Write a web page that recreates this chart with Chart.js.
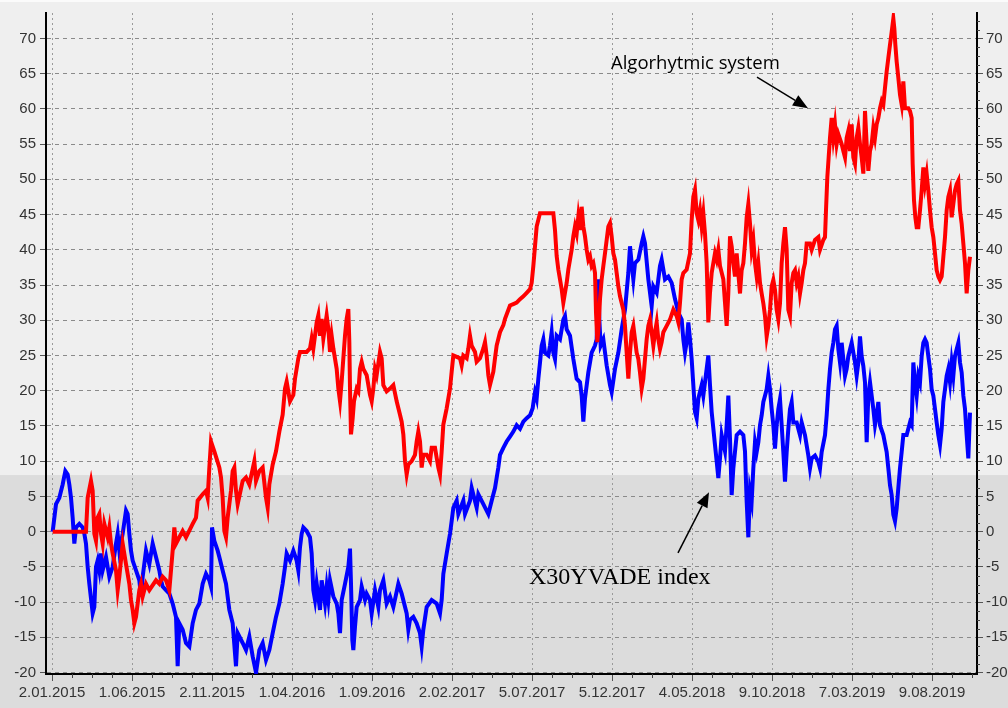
<!DOCTYPE html>
<html>
<head>
<meta charset="utf-8">
<script src="https://cdn.jsdelivr.net/npm/chart.js@4.4.0/dist/chart.umd.min.js"></script>
<style>
  html, body { margin: 0; padding: 0; background: #dcdcdc; }
  #wrap { width: 1008px; height: 708px; }
</style>
</head>
<body>
<div id="wrap"><canvas id="chart" width="1008" height="708"></canvas></div>
<script>
// x is a session counter, 240 sessions between date labels
const tickPos = [0, 240, 480, 720, 960, 1200, 1440, 1680, 1920, 2160, 2400, 2640];
const tickLabels = ['2.01.2015', '1.06.2015', '2.11.2015', '1.04.2016', '1.09.2016', '2.02.2017',
  '5.07.2017', '5.12.2017', '4.05.2018', '9.10.2018', '7.03.2019', '9.08.2019'];
const yTicks = [-20, -15, -10, -5, 0, 5, 10, 15, 20, 25, 30, 35, 40, 45, 50, 55, 60, 65, 70];

// Algorhytmic system (red)
const algoT = [
  2, 102, 107, 117, 122, 127, 132, 137, 142, 147, 152, 157, 167, 172, 177, 182, 192, 197, 202, 212,
  222, 232, 237, 242, 247, 252, 262, 267, 272, 282, 292, 312, 322, 332, 342, 352, 357, 362, 367, 372,
  382, 392, 402, 422, 432, 437, 452, 462, 467, 472, 477, 487, 502, 507, 512, 517, 522, 527, 537, 542,
  547, 552, 557, 572, 582, 592, 607, 612, 622, 632, 642, 647, 652, 662, 672, 682, 692, 699, 704, 714,
  724, 729, 739, 744, 764, 774, 779, 784, 789, 794, 799, 804, 809, 814, 824, 829, 834, 839, 844, 854,
  859, 864, 869, 874, 879, 884, 889, 892, 894, 897, 902, 906, 914, 919, 924, 929, 934, 944, 954, 959,
  964, 969, 974, 984, 989, 994, 1004, 1014, 1024, 1034, 1044, 1049, 1054, 1059, 1064, 1069, 1079, 1089, 1094, 1099,
  1104, 1109, 1114, 1124, 1134, 1139, 1149, 1159, 1164, 1169, 1174, 1184, 1194, 1199, 1204, 1224, 1229, 1234, 1244, 1249,
  1254, 1259, 1269, 1274, 1284, 1294, 1299, 1304, 1309, 1314, 1324, 1329, 1334, 1344, 1354, 1359, 1374, 1384, 1394, 1404,
  1414, 1424, 1434, 1439, 1444, 1449, 1454, 1464, 1504, 1509, 1514, 1519, 1524, 1529, 1534, 1539, 1544, 1549, 1554, 1559,
  1564, 1569, 1574, 1579, 1584, 1589, 1594, 1599, 1604, 1609, 1614, 1619, 1624, 1629, 1632, 1636, 1640, 1644, 1649, 1654,
  1659, 1664, 1669, 1674, 1679, 1684, 1689, 1694, 1699, 1704, 1714, 1719, 1724, 1729, 1734, 1739, 1744, 1749, 1754, 1759,
  1764, 1769, 1774, 1779, 1784, 1789, 1794, 1799, 1804, 1809, 1814, 1819, 1824, 1829, 1834, 1844, 1854, 1864, 1874, 1879,
  1884, 1889, 1894, 1904, 1914, 1919, 1924, 1929, 1934, 1939, 1944, 1949, 1954, 1959, 1964, 1969, 1974, 1979, 1984, 1989,
  1994, 1999, 2004, 2014, 2019, 2024, 2029, 2034, 2039, 2044, 2049, 2054, 2064, 2069, 2074, 2079, 2084, 2089, 2094, 2099,
  2104, 2109, 2114, 2119, 2124, 2129, 2134, 2139, 2144, 2149, 2154, 2159, 2164, 2169, 2174, 2179, 2184, 2189, 2194, 2199,
  2204, 2209, 2214, 2219, 2224, 2229, 2234, 2239, 2244, 2249, 2254, 2259, 2264, 2274, 2279, 2289, 2299, 2304, 2314, 2319,
  2322, 2326, 2330, 2334, 2339, 2344, 2349, 2354, 2359, 2369, 2374, 2379, 2384, 2389, 2394, 2399, 2404, 2409, 2414, 2419,
  2424, 2429, 2434, 2439, 2444, 2449, 2454, 2459, 2464, 2469, 2474, 2479, 2484, 2489, 2494, 2499, 2504, 2509, 2514, 2519,
  2524, 2527, 2530, 2534, 2539, 2544, 2549, 2554, 2559, 2569, 2574, 2579, 2582, 2586, 2590, 2594, 2599, 2604, 2609, 2614,
  2619, 2624, 2629, 2634, 2639, 2644, 2649, 2654, 2659, 2664, 2669, 2674, 2679, 2684, 2689, 2694, 2699, 2704, 2709, 2714,
  2719, 2724, 2729, 2734, 2739, 2744, 2749, 2754
];
const algoV = [
  0, 0, 4.8, 7.2, 5.8, -0.3, -1.3, 2.0, 2.5, -0.3, -1.7, 1.1, -0.8, 0.6, -1.7, -3.1, -5.5, -8.3, -6.4, -1.7,
  -4.6, -7.4, -9.7, -11.1, -13.0, -12.1, -8.3, -7.4, -9.2, -7.4, -8.3, -6.9, -7.4, -6.4, -6.9, -8.3, -5.5, -2.7, 0.6, -1.7,
  -0.8, 0.1, -0.8, 1.1, 2.0, 4.4, 5.3, 5.8, 4.8, 9.1, 12.8, 11.4, 9.1, 7.7, 4.8, 0.1, -0.8, 2.0, 5.8, 8.6,
  9.1, 5.8, 3.9, 7.2, 7.7, 6.7, 10.0, 7.2, 8.6, 9.1, 4.8, 3.4, 6.7, 9.5, 11.4, 14.2, 16.6, 20.3, 21.3, 18.5,
  19.4, 21.7, 24.6, 25.5, 25.5, 26.0, 27.4, 26.0, 27.8, 29.7, 30.7, 27.8, 30.2, 27.4, 30.7, 28.8, 25.5, 27.8, 26.0, 23.1,
  20.3, 18.5, 21.3, 24.6, 27.8, 30.2, 31.6, 26.9, 20.3, 13.8, 16.1, 18.5, 20.3, 19.9, 23.1, 24.1, 23.1, 22.2, 19.4, 18.5,
  20.3, 23.1, 22.2, 25.5, 24.6, 20.8, 19.9, 20.3, 20.8, 18.5, 16.6, 15.6, 13.8, 10.0, 8.1, 9.5, 10.0, 10.9, 12.8, 14.2,
  12.8, 9.1, 10.9, 10.9, 10.0, 11.9, 11.9, 9.1, 8.1, 11.4, 15.2, 17.5, 20.3, 22.7, 25.0, 24.6, 23.6, 25.0, 24.6, 26.0,
  27.8, 26.4, 25.5, 24.1, 24.6, 26.0, 26.9, 25.0, 22.2, 20.8, 22.7, 24.6, 26.4, 28.3, 29.3, 30.2, 32.1, 32.3, 32.5, 33.0,
  33.4, 33.9, 34.4, 35.3, 37.7, 40.5, 43.3, 45.2, 45.2, 42.8, 39.1, 37.2, 35.8, 34.4, 32.5, 33.9, 35.3, 37.2, 38.6, 40.0,
  41.9, 43.3, 42.3, 44.7, 42.8, 46.1, 43.3, 41.9, 40.0, 38.6, 39.1, 37.7, 38.1, 36.7, 31.1, 26.9, 29.2, 33.0, 35.8, 37.7,
  39.5, 41.4, 43.3, 43.8, 41.9, 39.5, 38.6, 36.7, 34.8, 33.4, 31.5, 29.2, 25.4, 21.7, 25.4, 28.3, 29.2, 27.3, 25.4, 24.5,
  22.6, 20.3, 21.7, 24.5, 27.3, 29.2, 30.1, 28.3, 26.4, 28.3, 29.7, 27.3, 25.9, 26.9, 28.3, 29.2, 30.1, 31.5, 30.6, 29.7,
  32.5, 35.8, 36.7, 37.2, 39.5, 44.2, 47.5, 48.5, 45.2, 44.2, 45.6, 43.3, 45.2, 42.3, 38.1, 29.7, 33.9, 36.7, 38.1, 39.5,
  38.6, 40.0, 37.7, 35.8, 32.5, 29.2, 33.9, 41.9, 40.5, 38.1, 36.2, 39.5, 33.8, 37.1, 38.1, 40.9, 44.6, 46.5, 43.7, 40.0,
  41.4, 38.1, 36.2, 38.1, 35.3, 33.8, 32.4, 30.6, 27.7, 29.2, 31.5, 34.8, 35.7, 34.3, 31.5, 30.1, 32.4, 38.1, 40.9, 43.2,
  40.0, 31.5, 30.6, 35.3, 36.7, 37.1, 35.3, 36.2, 33.8, 35.3, 37.1, 38.1, 40.9, 40.9, 40.0, 41.4, 41.8, 40.0, 41.4, 41.8,
  45.6, 50.3, 53.1, 55.9, 58.7, 55.9, 57.8, 55.0, 56.4, 55.0, 54.0, 53.1, 55.9, 56.9, 54.0, 57.8, 53.1, 52.2, 55.9, 57.3,
  55.0, 53.1, 50.8, 59.7, 55.0, 51.2, 54.0, 55.0, 57.3, 55.9, 57.8, 58.7, 60.1, 61.1, 60.6, 63.0, 65.3, 67.2, 69.1, 70.9,
  72.8, 71.4, 69.1, 66.7, 64.4, 62.0, 60.6, 63.9, 60.1, 60.1, 59.7, 58.7, 52.2, 47.0, 44.6, 43.2, 43.2, 45.6, 48.4, 51.7,
  49.3, 50.8, 48.4, 45.6, 43.2, 41.8, 39.5, 37.1, 36.2, 35.7, 36.2, 39.0, 41.8, 45.6, 47.5, 48.4, 44.6, 46.5, 48.4, 49.3,
  49.8, 45.6, 43.7, 40.9, 38.1, 33.8, 37.1, 39.0
];

// X30YVADE index (blue)
const indexT = [
  2, 12, 22, 32, 40, 47, 52, 57, 62, 67, 72, 82, 92, 97, 102, 107, 112, 122, 127, 132,
  137, 142, 147, 152, 162, 172, 182, 192, 197, 202, 212, 222, 227, 232, 237, 242, 252, 262, 267, 272,
  282, 292, 302, 312, 322, 327, 332, 342, 352, 362, 372, 377, 382, 392, 402, 412, 422, 432, 442, 452,
  462, 472, 477, 480, 487, 497, 502, 512, 522, 532, 542, 552, 557, 572, 582, 592, 602, 612, 622, 632,
  642, 652, 662, 672, 682, 692, 699, 704, 714, 724, 734, 739, 744, 749, 754, 764, 774, 779, 784, 789,
  794, 804, 809, 819, 824, 829, 834, 844, 854, 859, 864, 869, 879, 889, 894, 897, 901, 904, 909, 914,
  924, 929, 939, 944, 954, 959, 969, 979, 984, 994, 1004, 1014, 1024, 1039, 1049, 1064, 1069, 1074, 1084, 1094,
  1104, 1109, 1114, 1124, 1139, 1154, 1164, 1169, 1174, 1184, 1194, 1199, 1204, 1214, 1219, 1234, 1239, 1254, 1259, 1274,
  1279, 1294, 1309, 1319, 1329, 1339, 1344, 1354, 1364, 1374, 1384, 1394, 1404, 1414, 1424, 1434, 1442, 1446, 1449, 1454,
  1459, 1464, 1469, 1474, 1479, 1489, 1494, 1499, 1504, 1509, 1514, 1524, 1534, 1539, 1544, 1554, 1564, 1574, 1584, 1589,
  1594, 1599, 1609, 1619, 1629, 1634, 1639, 1642, 1646, 1654, 1664, 1674, 1679, 1689, 1699, 1709, 1719, 1729, 1734, 1739,
  1744, 1749, 1759, 1769, 1774, 1779, 1789, 1799, 1804, 1814, 1824, 1829, 1839, 1849, 1859, 1869, 1879, 1889, 1894, 1899,
  1904, 1909, 1914, 1919, 1924, 1929, 1934, 1939, 1949, 1954, 1964, 1969, 1974, 1979, 1989, 1994, 1999, 2004, 2009, 2019,
  2024, 2029, 2034, 2039, 2044, 2054, 2064, 2074, 2079, 2084, 2089, 2094, 2099, 2104, 2109, 2114, 2119, 2124, 2129, 2134,
  2139, 2144, 2149, 2154, 2159, 2164, 2169, 2174, 2179, 2184, 2189, 2194, 2199, 2204, 2209, 2214, 2219, 2224, 2234, 2244,
  2249, 2259, 2269, 2274, 2279, 2289, 2299, 2304, 2309, 2319, 2324, 2329, 2334, 2339, 2344, 2349, 2354, 2359, 2364, 2369,
  2374, 2379, 2384, 2389, 2399, 2409, 2414, 2419, 2424, 2429, 2434, 2439, 2444, 2449, 2454, 2464, 2469, 2474, 2479, 2484,
  2494, 2504, 2509, 2514, 2519, 2524, 2529, 2534, 2539, 2544, 2549, 2554, 2564, 2574, 2579, 2584, 2589, 2594, 2599, 2604,
  2609, 2614, 2619, 2624, 2629, 2634, 2639, 2644, 2649, 2654, 2659, 2664, 2669, 2674, 2679, 2684, 2689, 2694, 2699, 2704,
  2709, 2714, 2719, 2724, 2729, 2734, 2739, 2744, 2749, 2754
];
const indexV = [
  0, 3.9, 4.8, 6.7, 8.6, 8.1, 6.7, 4.8, 2.0, -1.7, 0.6, 1.1, 0.6, -0.3, -1.7, -5.0, -7.4, -11.6, -10.7, -5.0,
  -4.1, -5.5, -3.1, -5.5, -3.6, -6.4, -5.0, -1.7, -0.3, -2.7, -0.3, 3.0, 2.5, -0.3, -2.7, -4.1, -5.5, -6.9, -9.2, -6.4,
  -2.7, -4.6, -1.7, -3.6, -5.5, -6.9, -7.8, -8.3, -8.8, -10.2, -12.1, -19.1, -13.0, -13.9, -15.8, -16.3, -13.0, -11.1, -10.2, -7.4,
  -6.0, -6.9, -7.8, 0.6, -1.3, -2.7, -3.6, -5.5, -7.4, -11.1, -13.0, -19.1, -14.4, -15.8, -16.8, -14.9, -17.7, -20.0, -16.8, -15.8,
  -18.2, -16.8, -14.4, -12.1, -10.2, -7.4, -5.0, -3.1, -4.1, -2.7, -4.1, -5.5, -2.2, -0.3, 0.6, 0.1, -0.8, -3.1, -8.3, -9.7,
  -7.4, -11.1, -6.9, -10.2, -7.8, -9.7, -6.9, -9.2, -10.2, -11.6, -14.4, -9.7, -7.4, -5.0, -2.4, -7.4, -15.4, -16.8, -13.5, -10.7,
  -9.7, -7.8, -9.7, -8.8, -9.7, -11.6, -8.3, -10.7, -8.3, -6.9, -10.2, -9.2, -10.7, -7.4, -8.8, -11.6, -13.9, -12.5, -12.1, -13.0,
  -14.4, -16.3, -13.9, -10.7, -9.7, -10.2, -11.6, -9.7, -6.0, -3.1, -0.3, 1.5, 3.4, 4.4, 2.5, 4.4, 2.5, 4.4, 6.2, 3.4,
  5.3, 3.9, 2.5, 4.4, 6.2, 9.1, 10.9, 11.9, 12.8, 13.5, 14.2, 15.1, 14.6, 15.6, 16.1, 16.5, 17.5, 18.9, 19.8, 18.9,
  21.7, 24.0, 26.4, 27.3, 25.4, 25.0, 26.4, 28.3, 25.4, 24.5, 27.8, 27.3, 30.1, 30.6, 28.7, 27.8, 24.5, 21.7, 21.2, 19.3,
  15.6, 18.9, 22.6, 25.4, 26.4, 27.3, 35.8, 30.1, 26.4, 27.3, 23.6, 20.8, 19.8, 23.1, 25.4, 28.7, 31.5, 36.7, 40.5, 38.1,
  35.8, 38.1, 38.6, 40.9, 41.9, 40.9, 35.8, 32.0, 34.8, 33.9, 37.7, 38.6, 35.8, 36.2, 35.3, 33.0, 31.1, 30.1, 27.3, 25.4,
  26.9, 29.7, 27.3, 24.5, 20.8, 17.0, 16.1, 18.9, 20.8, 19.3, 23.1, 25.0, 20.8, 17.0, 12.3, 10.0, 7.6, 10.4, 13.7, 11.4,
  15.1, 19.3, 13.2, 5.2, 9.0, 13.7, 14.2, 13.7, 11.4, 4.3, -0.8, 5.7, 4.3, 9.0, 12.7, 11.3, 12.7, 15.1, 16.5, 18.4,
  19.3, 20.2, 22.1, 20.2, 17.4, 15.1, 11.8, 15.1, 17.4, 18.8, 15.1, 11.3, 7.1, 11.3, 14.6, 17.4, 18.4, 15.5, 15.5, 13.7,
  15.5, 13.7, 10.8, 9.0, 10.4, 10.8, 9.9, 9.0, 11.3, 13.7, 16.5, 20.2, 23.1, 25.4, 26.8, 28.7, 29.2, 25.9, 24.0, 26.8,
  24.5, 22.1, 23.1, 24.9, 26.8, 24.0, 22.1, 24.0, 27.7, 24.9, 23.5, 21.2, 12.7, 19.3, 21.2, 17.4, 15.1, 16.5, 18.4, 15.1,
  13.7, 11.3, 9.0, 6.6, 5.2, 2.4, 1.5, 3.3, 6.2, 9.0, 11.3, 13.7, 13.7, 15.5, 15.1, 24.0, 21.2, 19.3, 22.1, 21.2,
  24.9, 26.8, 27.3, 26.8, 24.9, 23.1, 20.2, 19.3, 17.4, 15.5, 13.7, 12.3, 14.6, 18.4, 20.2, 22.1, 23.1, 21.2, 24.0, 22.1,
  24.9, 25.9, 26.8, 24.0, 22.6, 19.3, 17.4, 13.7, 10.4, 16.9
];

const bandLevel = 8;
const labelFont = { family: 'Liberation Sans', size: 15 };

const algoData = algoT.map((t, i) => ({ x: t, y: algoV[i] }));
const indexData = indexT.map((t, i) => ({ x: t, y: indexV[i] }));

// two-tone background, split at the band level
const backgroundPlugin = {
  id: 'bg',
  beforeDraw(chart) {
    const ctx = chart.ctx;
    const yb = chart.scales.y.getPixelForValue(bandLevel);
    ctx.save();
    ctx.fillStyle = '#efefef';
    ctx.fillRect(0, 0, chart.width, yb);
    ctx.fillStyle = '#dcdcdc';
    ctx.fillRect(0, yb, chart.width, chart.height - yb);
    ctx.fillStyle = '#fbfbfb';
    ctx.fillRect(0, 0, chart.width, 2);
    ctx.restore();
  }
};

// small ticks between the labelled ones
const minorTicksPlugin = {
  id: 'minorTicks',
  afterDraw(chart) {
    const ctx = chart.ctx;
    const x = chart.scales.x, y2 = chart.scales.y2;
    const area = chart.chartArea;
    ctx.save();
    ctx.strokeStyle = '#444';
    ctx.lineWidth = 1;
    ctx.beginPath();
    for (let t = -60; t <= x.max; t += 60) {
      if (t % 240 === 0 || t < x.min) continue;
      const px = Math.round(x.getPixelForValue(t)) + 0.5;
      ctx.moveTo(px, area.bottom);
      ctx.lineTo(px, area.bottom + 4);
    }
    for (let v = -20; v <= y2.max; v += 1.25) {
      if (v % 5 === 0) continue;
      const py = Math.round(y2.getPixelForValue(v)) + 0.5;
      ctx.moveTo(area.right, py);
      ctx.lineTo(area.right + 3, py);
    }
    ctx.stroke();
    ctx.restore();
  }
};

function arrow(ctx, x1, y1, x2, y2) {
  const a = Math.atan2(y2 - y1, x2 - x1);
  const len = 15, half = 6;
  const bx = x2 - len * Math.cos(a), by = y2 - len * Math.sin(a);
  ctx.beginPath();
  ctx.moveTo(x1, y1);
  ctx.lineTo(bx, by);
  ctx.stroke();
  ctx.beginPath();
  ctx.moveTo(x2, y2);
  ctx.lineTo(bx + half * Math.sin(a), by - half * Math.cos(a));
  ctx.lineTo(bx - half * Math.sin(a), by + half * Math.cos(a));
  ctx.closePath();
  ctx.fill();
}

// callouts naming the two lines
const notesPlugin = {
  id: 'notes',
  afterDatasetsDraw(chart) {
    const ctx = chart.ctx;
    const x = chart.scales.x, y = chart.scales.y;
    ctx.save();
    ctx.fillStyle = '#000';
    ctx.strokeStyle = '#000';
    ctx.lineWidth = 1.5;
    ctx.textBaseline = 'alphabetic';
    ctx.font = '18.5px "Open Sans"';
    ctx.fillText('Algorhytmic system', x.getPixelForValue(1677), y.getPixelForValue(65.6));
    arrow(ctx, x.getPixelForValue(2115), y.getPixelForValue(64.5),
      x.getPixelForValue(2268), y.getPixelForValue(60.1));
    ctx.font = '24px "Liberation Serif"';
    ctx.fillText('X30YVADE index', x.getPixelForValue(1431), y.getPixelForValue(-7.4));
    arrow(ctx, x.getPixelForValue(1878), y.getPixelForValue(-3.0),
      x.getPixelForValue(1971), y.getPixelForValue(5.6));
    ctx.restore();
  }
};

const setYTicks = scale => { scale.ticks = yTicks.map(v => ({ value: v })); };

new Chart(document.getElementById('chart'), {
  type: 'line',
  data: {
    datasets: [
      {
        label: 'Algorhytmic system',
        data: algoData,
        borderColor: '#ff0000',
        borderWidth: 4,
        pointRadius: 0,
        tension: 0
      },
      {
        label: 'X30YVADE index',
        data: indexData,
        borderColor: '#0000ff',
        borderWidth: 4,
        pointRadius: 0,
        tension: 0
      }
    ]
  },
  options: {
    responsive: false,
    animation: false,
    events: [],
    layout: { padding: { top: 8, left: 0, right: 0, bottom: 0 } },
    plugins: { legend: { display: false }, tooltip: { enabled: false } },
    scales: {
      x: {
        type: 'linear',
        min: -18,
        max: 2775,
        afterBuildTicks: s => { s.ticks = tickPos.map(v => ({ value: v })); },
        afterFit: s => { s.height = 34; },
        ticks: {
          callback: (v, i) => tickLabels[i],
          font: labelFont,
          color: '#333',
          padding: 3,
          maxRotation: 0,
          autoSkip: false
        },
        grid: { color: '#9a9a9a', tickLength: 7, tickColor: '#555' },
        border: { color: '#000', width: 2, dash: [2, 3] }
      },
      y: {
        position: 'left',
        min: -20.2,
        max: 73.6,
        afterBuildTicks: setYTicks,
        afterFit: s => { s.width = 46; },
        ticks: { font: labelFont, color: '#333', padding: 4 },
        grid: { color: '#8a8a8a', tickLength: 6, tickColor: '#555' },
        border: { color: '#000', width: 2, dash: [4, 4] }
      },
      y2: {
        position: 'right',
        min: -20.2,
        max: 73.6,
        afterBuildTicks: setYTicks,
        afterFit: s => { s.width = 31; },
        ticks: { font: labelFont, color: '#333', padding: 3 },
        grid: { drawOnChartArea: false, tickLength: 6, tickColor: '#555' },
        border: { color: '#000', width: 2 }
      }
    }
  },
  plugins: [backgroundPlugin, minorTicksPlugin, notesPlugin]
});
</script>
</body>
</html>
